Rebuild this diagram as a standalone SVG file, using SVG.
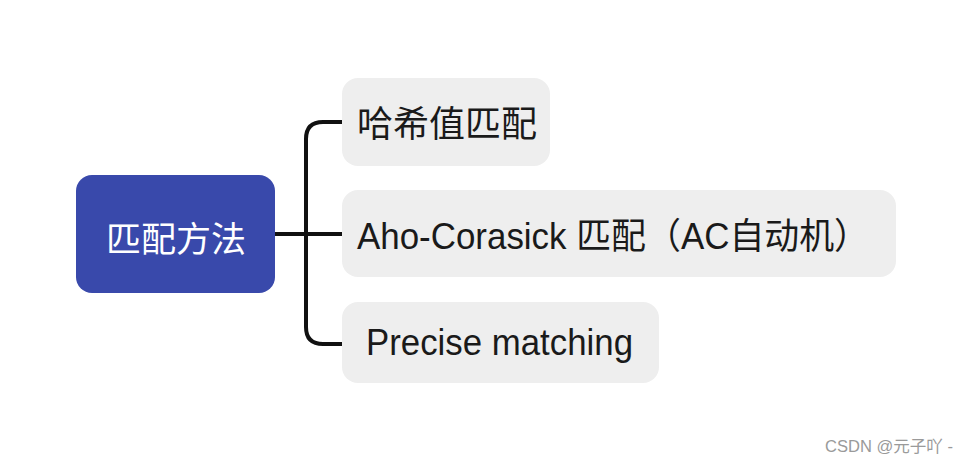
<svg xmlns="http://www.w3.org/2000/svg" width="972" height="464" viewBox="0 0 972 464">
<style>
.root{fill:#3949AB}
.child{fill:#EEEEEE}
.t{font-family:"Liberation Sans","Noto Sans CJK SC",sans-serif;font-size:36px;fill:#1a1a1a;dominant-baseline:central}
.rt{font-family:"Noto Sans CJK SC",sans-serif;font-size:35px;fill:#ffffff;dominant-baseline:central;text-anchor:middle}
.conn{fill:none;stroke:#111111;stroke-width:4;stroke-linecap:round;stroke-linejoin:round}
.wm{font-family:"Liberation Sans","Noto Sans CJK SC",sans-serif;font-size:16px;fill:#9a9a9a}
</style>
<rect width="972" height="464" fill="#ffffff"/>
<g id="connectors">
<path class="conn" d="M275,234 H342"/>
<path class="conn" d="M342,122 H323 Q306,122 306,139 V327 Q306,344 323,344 H342"/>
</g>
<g id="root">
<rect class="root" x="76" y="175" width="199" height="118" rx="16"/>
<text class="rt" x="176" y="236">匹配方法</text>
</g>
<g id="n1">
<rect class="child" x="342" y="78" width="208" height="88" rx="16"/>
<text class="t" x="357" y="124">哈希值匹配</text>
</g>
<g id="n2">
<rect class="child" x="342" y="190" width="554" height="87" rx="16"/>
<text class="t" x="357" y="236" textLength="512" lengthAdjust="spacingAndGlyphs">Aho-Corasick 匹配（AC自动机）</text>
</g>
<g id="n3">
<rect class="child" x="342" y="302" width="317" height="81" rx="16"/>
<text class="t" x="366" y="342" textLength="267" lengthAdjust="spacingAndGlyphs">Precise matching</text>
</g>
<text class="wm" x="825" y="452" textLength="128" lengthAdjust="spacingAndGlyphs">CSDN @元子吖 -</text>
</svg>
